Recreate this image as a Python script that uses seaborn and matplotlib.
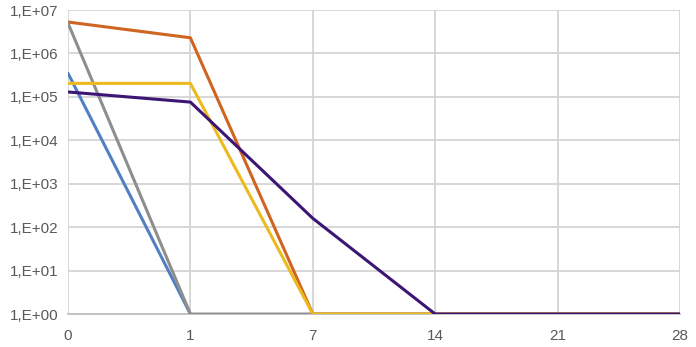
import matplotlib
matplotlib.use("Agg")
import matplotlib.pyplot as plt
import seaborn as sns
import pandas as pd
import numpy as np

days = ["0", "1", "7", "14", "21", "28"]
blue = [3.5e5, 1, None, None, None, None]
orange = [5.3e6, 2.3e6, 1, 1, 1, 1]
gray = [5.0e6, 1, 1, 1, 1, 1]
yellow = [2.05e5, 2.05e5, 1, 1, 1, 1]
purple = [1.3e5, 7.6e4, 1.6e2, 1, 1, 1]

series = {"blue": blue, "orange": orange, "gray": gray, "yellow": yellow, "purple": purple}
colors = {"blue": "#4F81C2", "orange": "#CF6520", "gray": "#8E8E8E",
          "yellow": "#EDBA1E", "purple": "#3D1575"}

rows = []
for name, vals in series.items():
    for i, v in enumerate(vals):
        if v is not None:
            rows.append({"pos": i, "value": v, "series": name})
df = pd.DataFrame(rows)

sns.set_style("white")
plt.rcParams["font.family"] = ["Liberation Sans", "DejaVu Sans"]

fig = plt.figure(figsize=(6.96, 3.47), dpi=100)
ax = fig.add_axes([0.0977, 0.095, 0.8793, 0.876])

sns.lineplot(data=df, x="pos", y="value", hue="series", palette=colors,
             hue_order=list(series.keys()), linewidth=2.2, ax=ax, legend=False,
             estimator=None, sort=False, zorder=3)

ax.set_yscale("log")
ax.set_ylim(1, 1e7)
ax.set_xlim(0, len(days) - 1)
ax.set_yticks([10.0 ** k for k in range(8)])
ax.set_yticklabels([f"1,E+{k:02d}" for k in range(8)])
ax.yaxis.set_minor_locator(matplotlib.ticker.NullLocator())
ax.set_xticks(range(len(days)))
ax.set_xticklabels(days)
ax.set_xlabel("")
ax.set_ylabel("")
ax.grid(True, color="#D4D4D4", linewidth=1.3, zorder=0)
ax.set_axisbelow(True)
for s in ["top", "right", "left"]:
    ax.spines[s].set_visible(False)
ax.spines["bottom"].set_color("#BFBFBF")
ax.spines["bottom"].set_linewidth(1.3)
ax.tick_params(axis="both", length=0, labelsize=11, colors="#595959")
ax.tick_params(axis="x", pad=11)
ax.tick_params(axis="y", pad=7)

fig.savefig("out.png", dpi=100)
